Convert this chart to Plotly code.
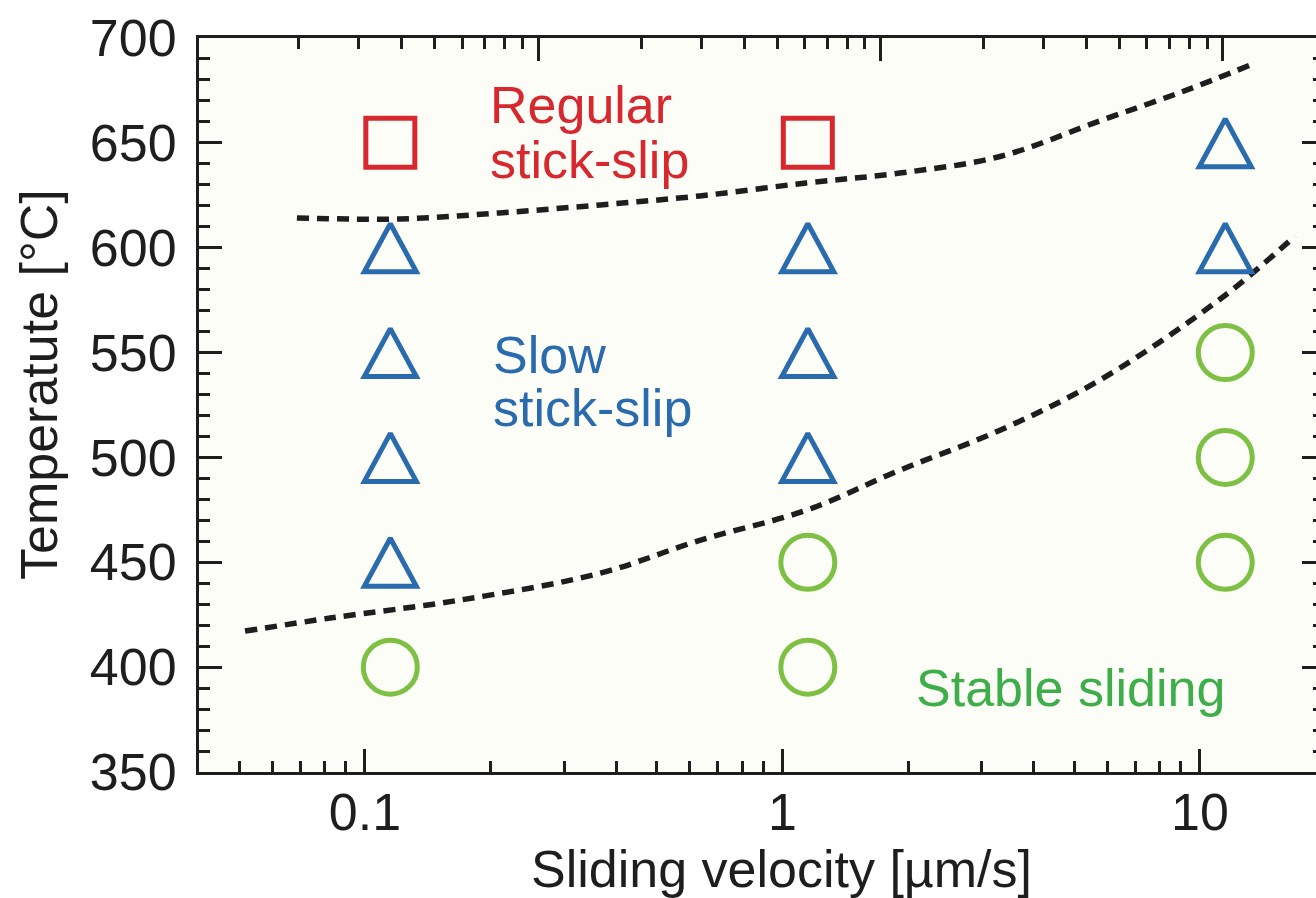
import numpy as np
import plotly.graph_objects as go

# Experimental runs: sliding velocity [um/s] and temperature [C]
regular_v = [0.115, 1.15]
regular_T = [650, 650]

slow_v = [0.115, 0.115, 0.115, 0.115, 1.15, 1.15, 1.15, 11.5, 11.5]
slow_T = [600, 550, 500, 450, 600, 550, 500, 650, 600]

stable_v = [0.115, 1.15, 1.15, 11.5, 11.5, 11.5]
stable_T = [400, 450, 400, 550, 500, 450]

# Regime boundaries (dashed)
upper_v = [0.0687, 0.121, 0.210, 0.366, 0.634, 1.14, 1.91, 3.32, 5.76, 9.10, 13.2]
upper_T = [614.2, 613.7, 616.6, 620.4, 624.7, 630.9, 635.6, 643.5, 660.5, 674.5, 687.1]

lower_v = [0.0516, 0.0825, 0.169, 0.366, 0.634, 1.14, 1.91, 3.32, 5.76, 11.35, 16.9]
lower_T = [417.2, 423.4, 432.0, 444.8, 460.5, 474.8, 493.9, 513.0, 536.9, 576.5, 605.6]

x_ticks = [0.1, 1, 10]
x_ticklabels = ["0.1", "1", "10"]
y_ticks = [350, 400, 450, 500, 550, 600, 650, 700]

RED = "#D7282F"
BLUE = "#2A6BAE"
GREEN_MK = "#7DC043"
GREEN_TX = "#3DAE49"
INK = "#1E1E1E"
FONT = "Liberation Sans, Arial, sans-serif"

W, H = 1316, 898
L, R, T, B = 199, 0, 38, 126
X_RANGE = [-1.3976, 1.278]
Y_RANGE = [350, 700]
PX_PER_DECADE = (W - L - R) / (X_RANGE[1] - X_RANGE[0])
PX_PER_DEG = (H - T - B) / (Y_RANGE[1] - Y_RANGE[0])


def log_minor(decades):
    return [k * 10.0 ** d for d in decades for k in range(2, 10)]


fig = go.Figure()

dash = "12px,8px"
for xs, ys in ((upper_v, upper_T), (lower_v, lower_T)):
    fig.add_trace(go.Scatter(x=xs, y=ys, mode="lines",
                             line=dict(color=INK, width=5.5, dash=dash, shape="spline"),
                             hoverinfo="skip", showlegend=False))

fig.add_trace(go.Scatter(x=regular_v, y=regular_T, mode="markers", name="Regular stick-slip",
                         marker=dict(symbol="square-open", size=49, color=RED,
                                     line=dict(width=5, color=RED)), showlegend=False))

# Open triangles drawn as closed outlines around each (v, T) point so the
# glyph keeps its tall proportions
half_w = 26 / PX_PER_DECADE   # in decades
half_h = 24 / PX_PER_DEG      # in degrees
tri_x, tri_y = [], []
for v, t in zip(slow_v, slow_T):
    lv = np.log10(v)
    xs = [lv - half_w, lv + half_w, lv, lv - half_w, lv + half_w]
    ys = [t - half_h, t - half_h, t + half_h, t - half_h, t - half_h]
    tri_x += [10 ** a for a in xs] + [None]
    tri_y += ys + [None]
fig.add_trace(go.Scatter(x=tri_x, y=tri_y, mode="lines", name="Slow stick-slip",
                         line=dict(color=BLUE, width=5), hoverinfo="skip", showlegend=False))

fig.add_trace(go.Scatter(x=stable_v, y=stable_T, mode="markers", name="Stable sliding",
                         marker=dict(symbol="circle-open", size=54, color=GREEN_MK,
                                     line=dict(width=5, color=GREEN_MK)), showlegend=False))

ann_font = 52
labels = [
    ("Regular", 0.197, 668, RED),
    ("stick-slip", 0.197, 641.8, RED),
    ("Slow", 0.200, 548.8, BLUE),
    ("stick-slip", 0.200, 523.6, BLUE),
    ("Stable sliding", 2.07, 390, GREEN_TX),
]
for text, xv, yv, col in labels:
    fig.add_annotation(x=np.log10(xv), y=yv, xref="x", yref="y", text=text,
                       showarrow=False, xanchor="left", yanchor="middle",
                       font=dict(family=FONT, size=ann_font, color=col))

# Axis titles (positions given in pixels, converted to paper fractions)
def paper_x(px):
    return (px - L) / (W - L - R)


def paper_y(py):
    return (H - B - py) / (H - T - B)


fig.add_annotation(x=paper_x(781), y=paper_y(838), xref="paper", yref="paper",
                   text="Sliding velocity [µm/s]", xanchor="center", yanchor="top",
                   showarrow=False, font=dict(family=FONT, size=52, color=INK))
fig.add_annotation(x=paper_x(8), y=paper_y(385), xref="paper", yref="paper",
                   text="Temperatute [°C]", textangle=-90, xanchor="left", yanchor="middle",
                   showarrow=False, font=dict(family=FONT, size=52, color=INK))

tickfont = dict(family=FONT, size=52, color=INK)
fig.update_layout(
    width=W, height=H,
    margin=dict(l=L, r=R, t=T, b=B, autoexpand=False),
    paper_bgcolor="white", plot_bgcolor="#FDFDF7",
    xaxis=dict(type="log", range=X_RANGE, tickvals=x_ticks, ticktext=x_ticklabels,
               ticks="inside", ticklen=23, tickwidth=3, tickcolor=INK,
               minor=dict(tickvals=log_minor([-2, -1, 0, 1]), ticks="inside", ticklen=11,
                          tickwidth=3, tickcolor=INK),
               showline=True, linewidth=3, linecolor=INK, showgrid=False, zeroline=False,
               tickfont=tickfont, ticklabelstandoff=-7, automargin=False),
    yaxis=dict(range=Y_RANGE, tickvals=y_ticks, ticks="inside", ticklen=23, tickwidth=3,
               tickcolor=INK,
               minor=dict(dtick=10, ticks="inside", ticklen=11, tickwidth=3, tickcolor=INK),
               showline=True, linewidth=3, linecolor=INK, showgrid=False, zeroline=False,
               tickfont=tickfont, ticklabelstandoff=9, automargin=False),
    xaxis2=dict(type="log", overlaying="x", side="top", anchor="y", range=[-1.99, 1.272],
                tickvals=[0.01, 0.1, 1, 10], showticklabels=False,
                ticks="inside", ticklen=23, tickwidth=3, tickcolor=INK,
                minor=dict(tickvals=log_minor([-2, -1, 0, 1]), ticks="inside", ticklen=11,
                           tickwidth=3, tickcolor=INK),
                showline=True, linewidth=3, linecolor=INK, showgrid=False, zeroline=False),
    yaxis2=dict(overlaying="y", side="right", anchor="x", range=Y_RANGE, tickvals=y_ticks,
                showticklabels=False, ticks="inside", ticklen=14, tickwidth=3, tickcolor=INK,
                minor=dict(dtick=10, ticks="inside", ticklen=3, tickwidth=3, tickcolor=INK),
                showline=False, showgrid=False, zeroline=False),
)
# empty traces so the secondary axes are laid out
fig.add_trace(go.Scatter(x=[], y=[], xaxis="x2", yaxis="y", showlegend=False, hoverinfo="skip"))
fig.add_trace(go.Scatter(x=[], y=[], xaxis="x", yaxis="y2", showlegend=False, hoverinfo="skip"))

fig.write_html("out.html")
